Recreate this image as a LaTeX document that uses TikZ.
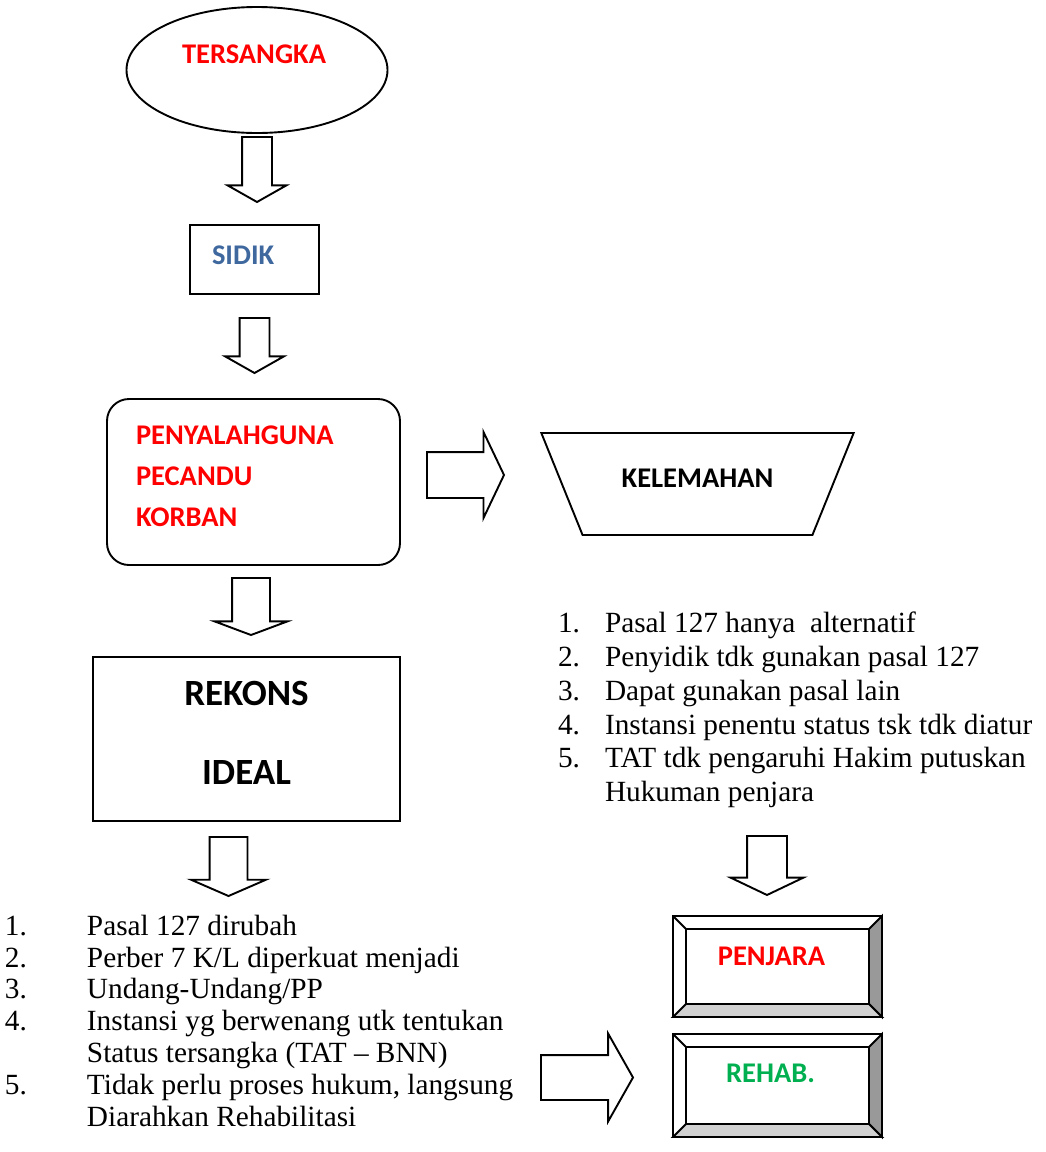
\documentclass[tikz,border=0pt]{standalone}
\usepackage{fontspec}
\setmainfont{Liberation Serif}
\newfontfamily\boxfont{Carlito}
\usetikzlibrary{shapes.geometric,shapes.arrows,calc}
\definecolor{sidikblue}{RGB}{62,104,158}
\definecolor{rehabgreen}{RGB}{0,176,80}

\begin{document}
\begin{tikzpicture}[x=1pt, y=-1pt, line width=1.9pt, outer sep=0pt,
  head/.style={font=\boxfont\bfseries\fontsize{28.5}{34}\selectfont},
  barr/.style n args={4}{single arrow, draw, fill=white, inner xsep=0pt,
    text height=0pt, text depth=0pt, single arrow head indent=0pt,
    inner ysep=#1, single arrow head extend=#2, minimum height=#3, single arrow tip angle=#4},
  bevelbox/.style={draw, fill=white, minimum width=209pt, minimum height=101pt, head, text depth=20pt},
  items/.style={align=left, inner sep=0pt, anchor=north west}]
  \useasboundingbox (0,0) rectangle (1045,1152);

  % flow on the left
  \node[ellipse, draw, minimum width=261pt, minimum height=126pt, head, text=red, text depth=32pt] (ter) at (257,70) {\hspace*{-6pt}TERSANGKA};
  \node[draw, minimum width=129pt, minimum height=69pt, inner xsep=22pt, text width=85pt, align=left,
    head, text=sidikblue, text depth=8pt] (sidik) at (254.5,259.5) {SIDIK};
  \node[draw, rounded corners=22pt, minimum width=293pt, minimum height=166pt, inner xsep=29pt, text width=235pt,
    align=left, head, font=\boxfont\bfseries\fontsize{28.5}{41}\selectfont, text=red, text depth=93pt] (pen) at (253.5,482)
    {PENYALAHGUNA\\ PECANDU\\ KORBAN};
  \node[draw, minimum width=307pt, minimum height=164pt, align=center,
    font=\boxfont\bfseries\fontsize{37}{79}\selectfont, text depth=13pt] (rek) at (246.5,739) {REKONS\\ IDEAL};

  % right side
  \node[trapezium, draw, trapezium stretches=true, shape border rotate=180, trapezium left angle=52.6,
    trapezium right angle=52.6, minimum width=313pt, minimum height=102pt, head, text depth=12pt] (kel) at (697.5,484) {KELEMAHAN};
  \node[bevelbox, text=red] (pj) at (777.5,966.5) {\hspace*{-12pt}PENJARA};
  \node[bevelbox, minimum height=103pt, text depth=24pt, text=rehabgreen] (rh) at (777.5,1085.5) {\hspace*{-14pt}REHAB.};
  \foreach \b in {pj,rh}{
    \coordinate (\b-1) at ($(\b.north west)+(13,13)$);
    \coordinate (\b-2) at ($(\b.north east)+(-13,13)$);
    \coordinate (\b-3) at ($(\b.south east)+(-13,-13)$);
    \coordinate (\b-4) at ($(\b.south west)+(13,-13)$);
    \draw[fill=black!40] (\b.north east) -- (\b.south east) -- (\b-3) -- (\b-2) -- cycle;
    \draw[fill=black!18] (\b.south west) -- (\b.south east) -- (\b-3) -- (\b-4) -- cycle;
    \draw (\b.north west) -- (\b-1) (\b-1) rectangle (\b-3);
  }

  % lists
  \node[items, font=\fontsize{29.3}{31.8}\selectfont] (list1) at (5,915)
    {\makebox[82pt][l]{1.}Pasal 127 dirubah\\
     \makebox[82pt][l]{2.}Perber 7 K/L diperkuat menjadi\\
     \makebox[82pt][l]{3.}Undang-Undang/PP\\
     \makebox[82pt][l]{4.}Instansi yg berwenang utk tentukan\\
     \hspace*{82pt}Status tersangka (TAT -- BNN)\\
     \makebox[82pt][l]{5.}Tidak perlu proses hukum, langsung\\
     \hspace*{82pt}Diarahkan Rehabilitasi};
  \node[items, font=\fontsize{29.3}{33.8}\selectfont] (list2) at (558,612)
    {\makebox[47pt][l]{1.}Pasal 127 hanya\ \ alternatif\\
     \makebox[47pt][l]{2.}Penyidik tdk gunakan pasal 127\\
     \makebox[47pt][l]{3.}Dapat gunakan pasal lain\\
     \makebox[47pt][l]{4.}Instansi penentu status tsk tdk diatur\\
     \makebox[47pt][l]{5.}TAT tdk pengaruhi Hakim putuskan\\
     \hspace*{47pt}Hukuman penjara};

  % block arrows
  \node[barr={14pt}{14.5pt}{65pt}{121}, rotate=-90, anchor=tail] (a1) at ([yshift=-4pt]ter.south) {};
  \node[barr={14pt}{14.5pt}{55pt}{121}, rotate=-90, anchor=tail] (a2) at ([yshift=-24pt]sidik.south) {};
  \node[barr={18pt}{17.5pt}{57pt}{139}, rotate=-90, anchor=tail] (a3) at ([xshift=-2.5pt, yshift=-13pt]pen.south) {};
  \node[barr={22pt}{20pt}{77pt}{129}, anchor=tail] (a4) at ([xshift=27pt, yshift=7pt]pen.east) {};
  \node[barr={18pt}{18.5pt}{59pt}{133}, rotate=-90, anchor=tail] (a5) at ([xshift=-18pt, yshift=-16pt]rek.south) {};
  \node[barr={19pt}{16.5pt}{59pt}{129}, rotate=-90, anchor=tip] (a6) at ([xshift=-10.5pt, yshift=21pt]pj.north) {};
  \node[barr={21.5pt}{21.5pt}{92pt}{121}, anchor=tip] (a7) at ([xshift=-40pt, yshift=8pt]rh.west) {};
\end{tikzpicture}
\end{document}
